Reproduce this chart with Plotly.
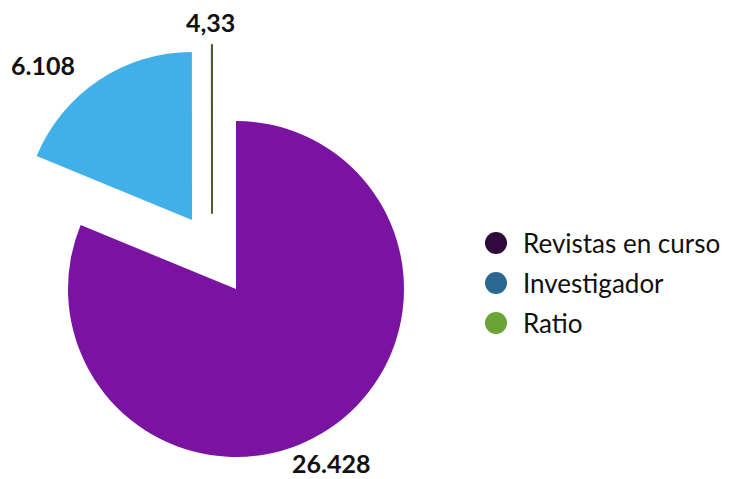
import plotly.graph_objects as go

W, H = 730, 479

labels = ["Revistas en curso", "Investigador", "Ratio"]
values = [26428, 6108, 4.33]
value_labels = ["26.428", "6.108", "4,33"]
slice_colors = ["#7b13a2", "#41b0e8", "#4d5a2c"]
legend_colors = ["#2e0a3d", "#2a6891", "#6aa436"]

# apex (centre) of each exploded slice, in pixels
centers = [(236, 289), (192, 220), (212, 213)]
R = 168


def px(x):
    return x / W


def py(y):
    return 1 - y / H


fig = go.Figure()
for i, (cx, cy) in enumerate(centers):
    cols = ["rgba(0,0,0,0)"] * len(values)
    cols[i] = slice_colors[i]
    lw = [0] * len(values)
    if i == 2:
        lw[i] = 2
    fig.add_trace(go.Pie(
        labels=labels, values=values, sort=False, direction="clockwise",
        rotation=0, textinfo="none", hoverinfo="label+value",
        marker=dict(colors=cols, line=dict(color=[slice_colors[i]] * 3, width=lw)),
        domain=dict(x=[px(cx - R), px(cx + R)],
                    y=[py(cy + R), py(cy - R)]),
        showlegend=False,
    ))

# value labels
label_pos = [(331, 463), (43, 65), (211, 22)]
for txt, (x, y) in zip(value_labels, label_pos):
    fig.add_annotation(x=px(x), y=py(y), xref="paper", yref="paper",
                       xanchor="center", yanchor="middle",
                       text=f"<b>{txt}</b>", showarrow=False,
                       font=dict(family="Lato", size=25, color="#111111"))

# custom legend
for i, (name, col) in enumerate(zip(labels, legend_colors)):
    yc = 243 + 40 * i
    fig.add_shape(type="circle", xref="paper", yref="paper",
                  x0=px(496 - 11), x1=px(496 + 11),
                  y0=py(yc + 11), y1=py(yc - 11),
                  fillcolor=col, line=dict(width=0))
    fig.add_annotation(x=px(521), y=py(yc), xref="paper", yref="paper",
                       xanchor="left", yanchor="middle", text=name,
                       showarrow=False,
                       font=dict(family="Lato", size=26, color="#111111"))

fig.update_layout(
    width=W, height=H, margin=dict(l=0, r=0, t=0, b=0),
    paper_bgcolor="white", plot_bgcolor="white",
    showlegend=False,
)
fig.write_html("out.html",
               config={"displayModeBar": False},
               post_script="document.body.style.margin='0px';")
